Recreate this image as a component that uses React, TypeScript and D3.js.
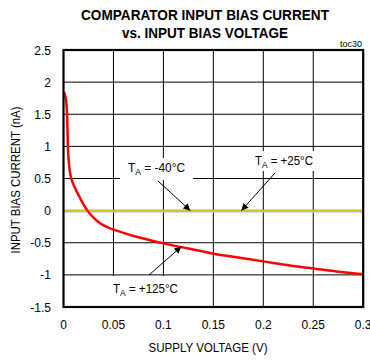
import React from "react";
import * as d3 from "d3";

const xTicks = [0, 0.05, 0.1, 0.15, 0.2, 0.25, 0.3];
const xTickLabels = ["0", "0.05", "0.1", "0.15", "0.2", "0.25", "0.3"];
const yTicks = [2.5, 2, 1.5, 1, 0.5, 0, -0.5, -1, -1.5];
const yTickLabels = ["2.5", "2", "1.5", "1", "0.5", "0", "-0.5", "-1", "-1.5"];

// T_A = +125°C
const hotX = [0, 0.0015, 0.0028, 0.0036, 0.004, 0.0044, 0.0052, 0.0065, 0.0082, 0.011, 0.0148, 0.019, 0.024, 0.03, 0.037, 0.045, 0.055, 0.065, 0.075, 0.1, 0.125, 0.15, 0.175, 0.2, 0.225, 0.25, 0.275, 0.3];
const hotY = [1.85, 1.8, 1.68, 1.5, 1.25, 1.0, 0.78, 0.6, 0.48, 0.37, 0.25, 0.125, 0.0, -0.11, -0.2, -0.265, -0.32, -0.37, -0.415, -0.51, -0.59, -0.67, -0.73, -0.79, -0.85, -0.9, -0.95, -0.99];
// T_A = -40°C and +25°C (flat near zero)
const coldX = [0, 0.3];
const coldY = [0, 0];
const roomX = [0, 0.3];
const roomY = [-0.025, -0.025];

const W = 370, H = 360;
const L = 63.5, R = 363.2, T = 50, B = 307;

export default function App() {
  const x = d3.scaleLinear().domain([0, 0.3]).range([L, R]);
  const y = d3.scaleLinear().domain([-1.5, 2.5]).range([B, T]);
  const line = d3.line<[number, number]>().x(d => x(d[0])).y(d => y(d[1])).curve(d3.curveMonotoneX);
  const hot = hotX.map((v, i) => [v, hotY[i]] as [number, number]);
  const cold = coldX.map((v, i) => [v, coldY[i]] as [number, number]);
  const room = roomX.map((v, i) => [v, roomY[i]] as [number, number]);
  const font = "'Liberation Sans', Arial, Helvetica, sans-serif";

  return (
    <svg width={W} height={H} style={{ position: "absolute", left: 0, top: 0, background: "#fff" }} fontFamily={font}>
      <defs>
        <marker id="ah" viewBox="0 0 10 10" refX="10" refY="5" markerWidth="10" markerHeight="7" markerUnits="userSpaceOnUse" orient="auto">
          <path d="M0,0 L10,5 L0,10 z" fill="#000" />
        </marker>
      </defs>
      <rect x={0} y={0} width={W} height={H} fill="#fff" />
      <text x={205} y={20} textAnchor="middle" fontSize={14} fontWeight="bold" textLength={248} lengthAdjust="spacingAndGlyphs">COMPARATOR INPUT BIAS CURRENT</text>
      <text x={205} y={38} textAnchor="middle" fontSize={14} fontWeight="bold" textLength={166} lengthAdjust="spacingAndGlyphs">vs. INPUT BIAS VOLTAGE</text>
      <text x={362} y={47} textAnchor="end" fontSize={9}>toc30</text>

      {xTicks.map(t => (
        <line key={"gx" + t} x1={x(t)} x2={x(t)} y1={T} y2={B} stroke="#000" strokeWidth={1} />
      ))}
      {yTicks.map(t => (
        <line key={"gy" + t} x1={L} x2={R} y1={y(t)} y2={y(t)} stroke="#000" strokeWidth={1} />
      ))}

      {/* label backgrounds */}
      <rect x={120} y={158} width={73} height={22} fill="#fff" />
      <rect x={252} y={151} width={64} height={20} fill="#fff" />
      <rect x={95} y={276} width={105} height={30} fill="#fff" />

      <path d={line(room) || ""} fill="none" stroke="#a8d8ea" strokeWidth={1.2} />
      <path d={line(cold) || ""} fill="none" stroke="#d2bf22" strokeWidth={2.2} />
      <path d={line(hot) || ""} fill="none" stroke="#ff0000" strokeWidth={2.5} />

      <rect x={L} y={T} width={R - L} height={B - T} fill="none" stroke="#000" strokeWidth={2.2} />

      {yTicks.map((t, i) => (
        <text key={"yl" + t} x={51} y={y(t) + 4.5} textAnchor="end" fontSize={12}>{yTickLabels[i]}</text>
      ))}
      {xTicks.map((t, i) => (
        <text key={"xl" + t} x={x(t)} y={329} textAnchor="middle" fontSize={12}>{xTickLabels[i]}</text>
      ))}
      <text x={208} y={352} textAnchor="middle" fontSize={12.5} textLength={119} lengthAdjust="spacingAndGlyphs">SUPPLY VOLTAGE (V)</text>
      <text transform="translate(20,180) rotate(-90)" textAnchor="middle" fontSize={12.5} textLength={147} lengthAdjust="spacingAndGlyphs">INPUT BIAS CURRENT (nA)</text>

      <text x={128} y={172} fontSize={12.5} textLength={57} lengthAdjust="spacingAndGlyphs">T<tspan fontSize={9} dy={3}>A</tspan><tspan dy={-3}> = -40°C</tspan></text>
      <text x={255} y={165} fontSize={12.5} textLength={58} lengthAdjust="spacingAndGlyphs">T<tspan fontSize={9} dy={3}>A</tspan><tspan dy={-3}> = +25°C</tspan></text>
      <text x={113} y={293} fontSize={12.5} textLength={65} lengthAdjust="spacingAndGlyphs">T<tspan fontSize={9} dy={3}>A</tspan><tspan dy={-3}> = +125°C</tspan></text>

      <line x1={158} y1={181} x2={x(0.127)} y2={y(0)} stroke="#000" strokeWidth={1} markerEnd="url(#ah)" />
      <line x1={275} y1={173} x2={x(0.178)} y2={y(0)} stroke="#000" strokeWidth={1} markerEnd="url(#ah)" />
      <line x1={149} y1={275} x2={x(0.118)} y2={y(-0.56)} stroke="#000" strokeWidth={1} markerEnd="url(#ah)" />
    </svg>
  );
}
